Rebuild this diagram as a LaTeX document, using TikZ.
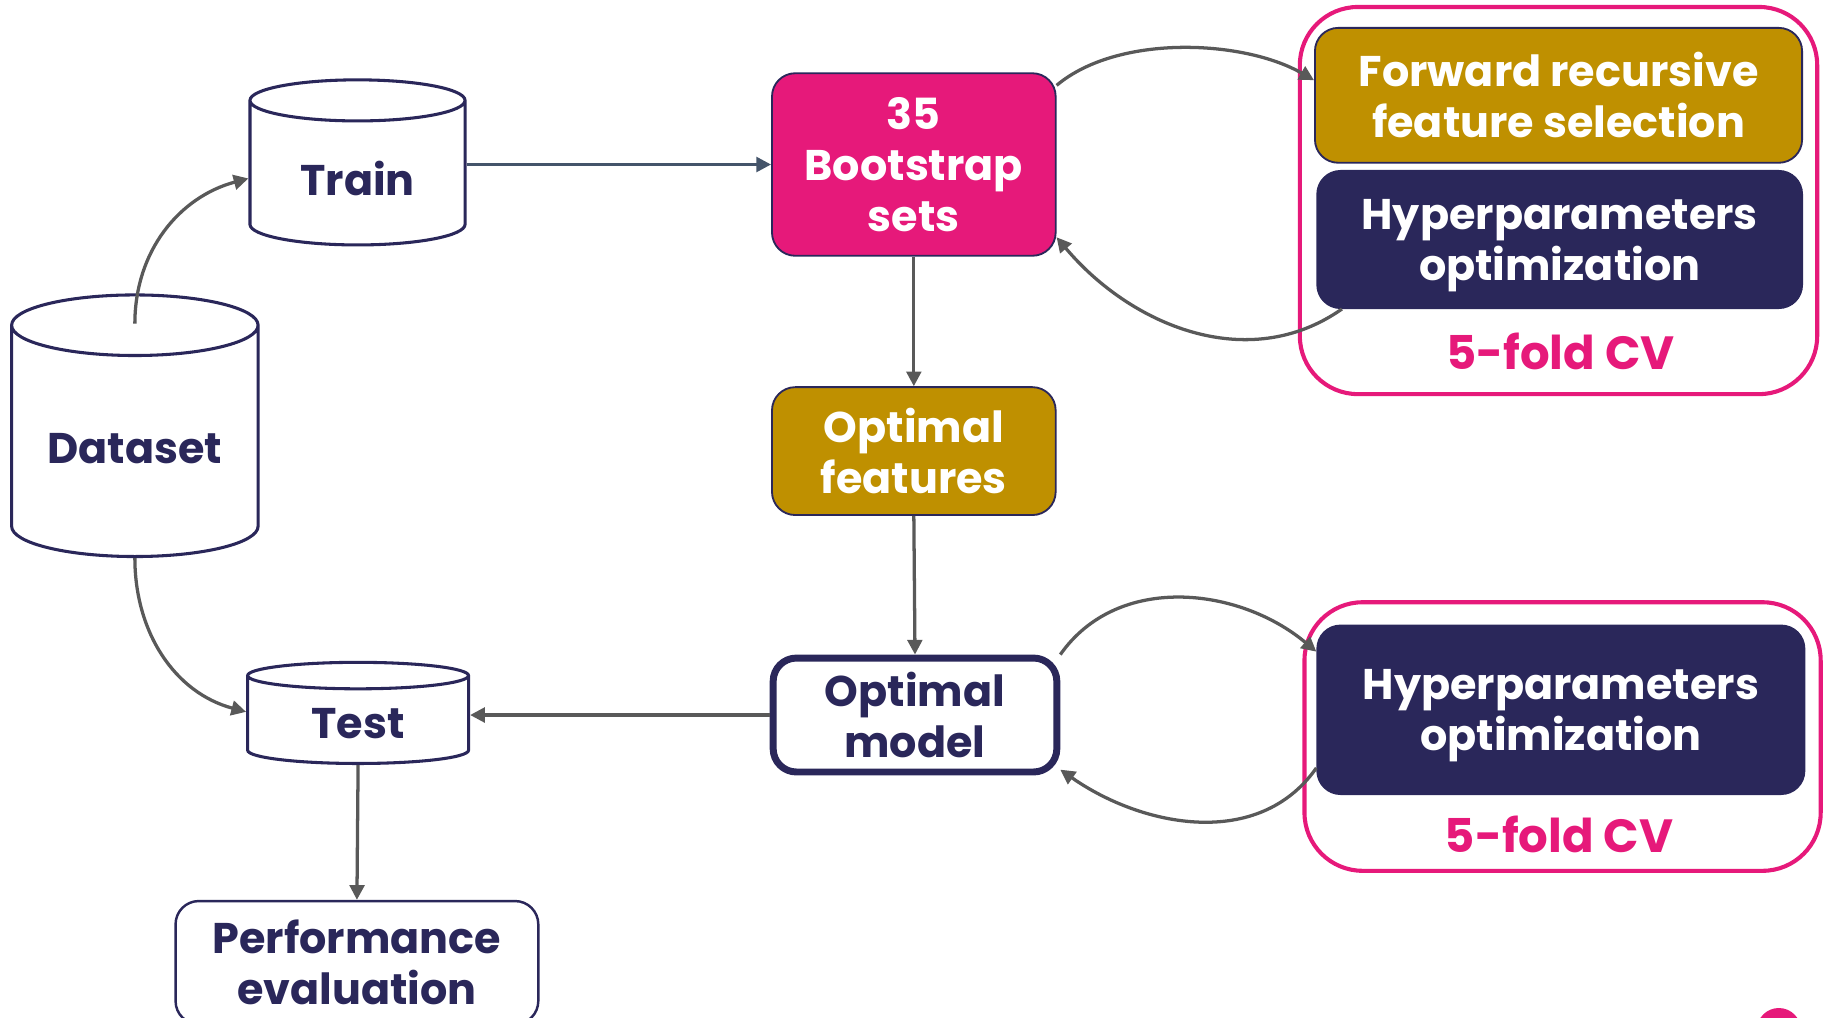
\documentclass[tikz,border=0pt]{standalone}
\usepackage{fontspec}
\setmainfont{Poppins}
\usetikzlibrary{arrows.meta,positioning,calc,shapes.geometric}

\definecolor{navy}{RGB}{42,39,90}
\definecolor{cvpink}{RGB}{230,25,122}
\definecolor{gold}{RGB}{191,144,0}
\definecolor{arrowgray}{RGB}{89,89,89}
\definecolor{slate}{RGB}{68,84,106}

\tikzset{every node/.style={ % Text of every block
            font=\bfseries\fontsize{10.5}{12.5}\selectfont,
            align=center},
        db/.style={ % Data stores drawn as cylinders
            cylinder, shape border rotate=90, anchor=south,
            draw=navy, line width=0.75pt,
            fill=white, text=navy},
        block/.style={ % Rounded boxes
            rectangle, rounded corners=0.2cm,
            draw=navy, line width=0.45pt},
        hyper/.style={ % Navy boxes, last line has a descender
            block, fill=navy, text=white, text depth=-0.03cm},
        cvframe/.style={ % Frame round the cross validation steps
            rectangle, rounded corners=0.5cm,
            draw=cvpink, line width=1pt},
        cvlabel/.style={text=cvpink, font=\bfseries\fontsize{11.4}{13}\selectfont},
        every edge/.style={ % Sets the properties for each connector
            draw=arrowgray,
            line width=0.8pt,
            -{Triangle[length=3.6pt,width=3.6pt]}}
        }

\begin{document}
\begin{tikzpicture}
    \useasboundingbox (0,0) rectangle (15.68,-8.75);

    % data (cylinders stand on their bottom point)
    \node[db, aspect=0.30, minimum width=2.12cm, minimum height=2.25cm] (dataset) at (1.16,-4.80) {Dataset};
    \node[db, aspect=0.29, minimum width=1.85cm, minimum height=1.42cm] (train) at (3.075,-2.12) {Train};
    \node[db, aspect=0.22, minimum width=1.90cm, minimum height=0.87cm] (test) at (3.08,-6.58) {Test};
    \node[block, line width=0.6pt, fill=white, text=navy, minimum width=3.12cm, minimum height=1.06cm] (perf) at (3.07,-8.28) {Performance\\evaluation};

    % middle column
    \node[block, fill=cvpink, text=white, minimum width=2.44cm, minimum height=1.57cm] (boot) at (7.86,-1.415) {35\\Bootstrap\\sets};
    \node[block, fill=gold, text=white, minimum width=2.44cm, minimum height=1.10cm] (optfeat) at (7.86,-3.88) {Optimal\\features};
    \node[block, line width=1.7pt, fill=white, text=navy, minimum width=2.44cm, minimum height=0.98cm] (optmodel) at (7.87,-6.15) {Optimal\\model};

    % cross validation, top
    \node[cvframe, minimum width=4.45cm, minimum height=3.33cm] (cvtop) at (13.405,-1.725) {};
    \node[block, fill=gold, text=white, minimum width=4.19cm, minimum height=1.16cm] (frs) at (13.405,-0.82) {Forward recursive\\feature selection};
    \node[hyper, minimum width=4.17cm, minimum height=1.18cm] (hyptop) at (13.415,-2.06) {Hyperparameters\\optimization};
    \node[cvlabel] (cvtoplabel) at (13.42,-3.02) {5-fold CV};

    % cross validation, bottom
    \node[cvframe, minimum width=4.44cm, minimum height=2.31cm] (cvbot) at (13.44,-6.335) {};
    \node[hyper, minimum width=4.19cm, minimum height=1.45cm] (hypbot) at (13.425,-6.105) {Hyperparameters\\optimization};
    \node[cvlabel] (cvbotlabel) at (13.41,-7.18) {5-fold CV};

    \fill[cvpink] (15.30,-8.86) circle (0.19);

    % connectors
    \draw ([yshift=-0.26cm]dataset.north) edge[out=90, in=195] (train.west);
    \draw (dataset.south) edge[out=-90, in=165] ([yshift=0.1cm]test.west);
    \draw (boot.west -| train.east) edge[draw=slate] (boot.west);
    \draw (boot.south) edge (optfeat.north);
    \draw (optfeat.south) edge (optmodel.north);
    \draw (optmodel.west) edge (optmodel.west -| test.east);
    \draw (test.south) edge (perf.north);

    \draw (boot.29) edge[out=40, in=150, looseness=0.8] ([yshift=0.13cm]frs.west);
    \draw ([xshift=0.22cm]hyptop.south west) edge[out=215, in=-50] (boot.-27);
    \draw (optmodel.north east) edge[out=55, in=140] ([yshift=0.5cm]hypbot.west);
    \draw ([yshift=-0.5cm]hypbot.west) edge[out=235, in=-35] ([yshift=0.05cm]optmodel.south east);
\end{tikzpicture}
\end{document}
